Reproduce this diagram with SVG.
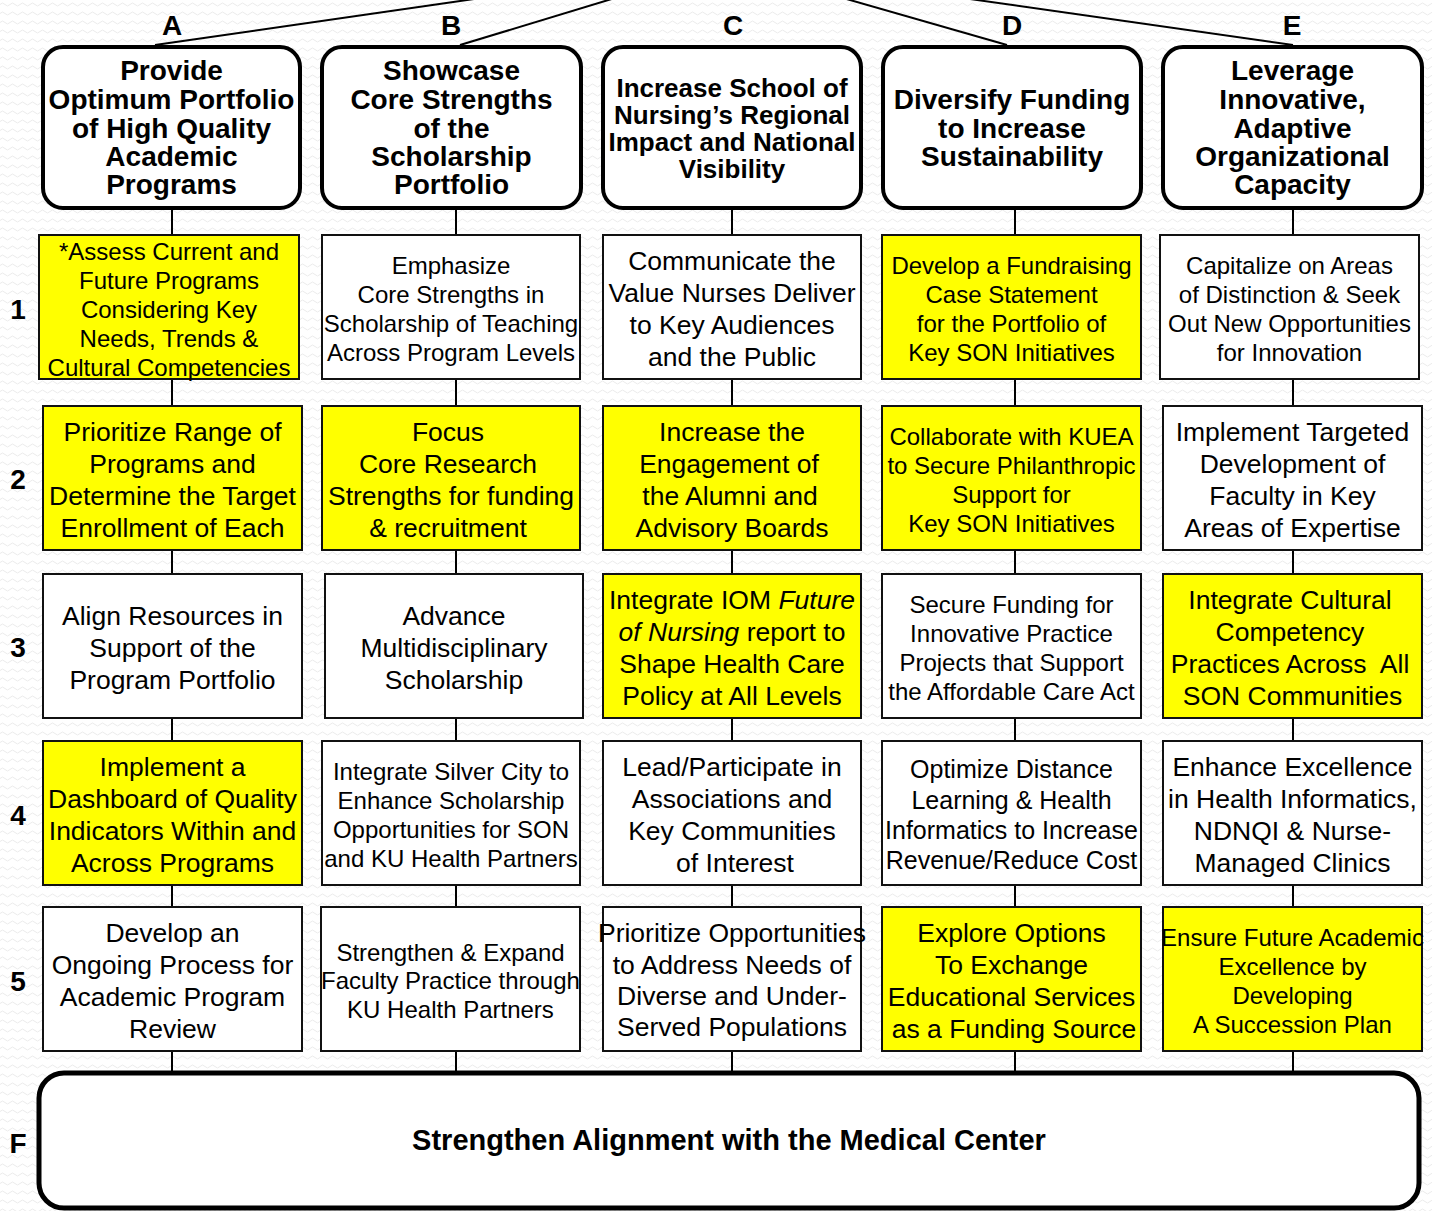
<svg xmlns="http://www.w3.org/2000/svg" width="1432" height="1211" viewBox="0 0 1432 1211">
<defs>
<pattern id="bg" width="10" height="9" patternUnits="userSpaceOnUse">
<path d="M0 4.5 Q2.5 1.5 5 4.5 T10 4.5" fill="none" stroke="#ebebeb" stroke-width="1"/>
</pattern>
<style>
.hdr{fill:#fff;stroke:#000;stroke-width:4}
.fbox{fill:#fff;stroke:#000;stroke-width:5}
.box{fill:#fff;stroke:#111;stroke-width:2}
.y{fill:#ffff00}
.ht{font-family:"Liberation Sans",Arial,sans-serif;font-weight:bold;font-size:28px;text-anchor:middle;fill:#000}
.hc{font-size:26px}
.ft{font-size:29px}
.lb{font-family:"Liberation Sans",Arial,sans-serif;font-weight:bold;font-size:28px;text-anchor:middle;fill:#000}
.t24{font-family:"Liberation Sans",Arial,sans-serif;font-size:24px;text-anchor:middle;fill:#000}
.t26{font-family:"Liberation Sans",Arial,sans-serif;font-size:26.5px;text-anchor:middle;fill:#000}
.t25{font-family:"Liberation Sans",Arial,sans-serif;font-size:25px;text-anchor:middle;fill:#000}
.con{stroke:#000;stroke-width:2;fill:none}
</style>
</defs>
<rect x="0" y="0" width="1432" height="1211" fill="#fff"/>
<rect x="0" y="0" width="1432" height="1211" fill="url(#bg)"/>

<g id="connectors">
<path class="con" d="M155 45 L481 -2"/>
<path class="con" d="M460 45 L615 -2"/>
<path class="con" d="M1007 45 L843 -2"/>
<path class="con" d="M1293 45 L963 -2"/>
<path class="con" d="M172 208 V1073"/>
<path class="con" d="M456 208 V1073"/>
<path class="con" d="M732 208 V1073"/>
<path class="con" d="M1015 208 V1073"/>
<path class="con" d="M1293 208 V1073"/>
</g>

<g id="labels">
<text class="lb" x="172" y="35">A</text>
<text class="lb" x="451" y="35">B</text>
<text class="lb" x="733" y="35">C</text>
<text class="lb" x="1012" y="35">D</text>
<text class="lb" x="1292" y="35">E</text>
<text class="lb" x="18" y="319">1</text>
<text class="lb" x="18" y="489">2</text>
<text class="lb" x="18" y="657">3</text>
<text class="lb" x="18" y="825">4</text>
<text class="lb" x="18" y="991">5</text>
<text class="lb" x="18" y="1153">F</text>
</g>

<g id="hA">
<rect class="hdr" x="43" y="47" width="257" height="161" rx="20"/>
<text class="ht"><tspan x="171.5" y="80">Provide</tspan><tspan x="171.5" y="109">Optimum Portfolio</tspan><tspan x="171.5" y="138">of High Quality</tspan><tspan x="171.5" y="166">Academic</tspan><tspan x="171.5" y="194">Programs</tspan></text>
</g>
<g id="hB">
<rect class="hdr" x="322" y="47" width="259" height="161" rx="20"/>
<text class="ht"><tspan x="451.5" y="80">Showcase</tspan><tspan x="451.5" y="109">Core Strengths</tspan><tspan x="451.5" y="138">of the</tspan><tspan x="451.5" y="166">Scholarship</tspan><tspan x="451.5" y="194">Portfolio</tspan></text>
</g>
<g id="hC">
<rect class="hdr" x="603" y="47" width="258" height="161" rx="20"/>
<text class="ht hc"><tspan x="732" y="96.5">Increase School of</tspan><tspan x="732" y="123.5">Nursing’s Regional</tspan><tspan x="732" y="150.5">Impact and National</tspan><tspan x="732" y="177.5">Visibility</tspan></text>
</g>
<g id="hD">
<rect class="hdr" x="883" y="47" width="258" height="161" rx="20"/>
<text class="ht"><tspan x="1012" y="109">Diversify Funding</tspan><tspan x="1012" y="138">to Increase</tspan><tspan x="1012" y="166">Sustainability</tspan></text>
</g>
<g id="hE">
<rect class="hdr" x="1163" y="47" width="259" height="161" rx="20"/>
<text class="ht"><tspan x="1292.5" y="80">Leverage</tspan><tspan x="1292.5" y="109">Innovative,</tspan><tspan x="1292.5" y="138">Adaptive</tspan><tspan x="1292.5" y="166">Organizational</tspan><tspan x="1292.5" y="194">Capacity</tspan></text>
</g>

<g id="A1">
<rect class="box y" x="39" y="235" width="260" height="144"/>
<text class="t24"><tspan x="169" y="260">*Assess Current and</tspan><tspan x="169" y="289">Future Programs</tspan><tspan x="169" y="318">Considering Key</tspan><tspan x="169" y="347">Needs, Trends &amp;</tspan><tspan x="169" y="376">Cultural Competencies</tspan></text>
</g>
<g id="B1">
<rect class="box" x="322" y="235" width="258" height="144"/>
<text class="t24"><tspan x="451" y="273.5">Emphasize</tspan><tspan x="451" y="302.5">Core Strengths in</tspan><tspan x="451" y="331.5">Scholarship of Teaching</tspan><tspan x="451" y="360.5">Across Program Levels</tspan></text>
</g>
<g id="C1">
<rect class="box" x="603" y="235" width="258" height="144"/>
<text class="t26"><tspan x="732" y="269.5">Communicate the</tspan><tspan x="732" y="301.5">Value Nurses Deliver</tspan><tspan x="732" y="333.5">to Key Audiences</tspan><tspan x="732" y="365.5">and the Public</tspan></text>
</g>
<g id="D1">
<rect class="box y" x="882" y="235" width="259" height="144"/>
<text class="t24"><tspan x="1011.5" y="273.5">Develop a Fundraising</tspan><tspan x="1011.5" y="302.5">Case Statement</tspan><tspan x="1011.5" y="331.5">for the Portfolio of</tspan><tspan x="1011.5" y="360.5">Key SON Initiatives</tspan></text>
</g>
<g id="E1">
<rect class="box" x="1160" y="235" width="259" height="144"/>
<text class="t24"><tspan x="1289.5" y="273.5">Capitalize on Areas</tspan><tspan x="1289.5" y="302.5">of Distinction &amp; Seek</tspan><tspan x="1289.5" y="331.5">Out New Opportunities</tspan><tspan x="1289.5" y="360.5">for Innovation</tspan></text>
</g>

<g id="A2">
<rect class="box y" x="43" y="406" width="259" height="144"/>
<text class="t26"><tspan x="172.5" y="440.5">Prioritize Range of</tspan><tspan x="172.5" y="472.5">Programs and</tspan><tspan x="172.5" y="504.5">Determine the Target</tspan><tspan x="172.5" y="536.5">Enrollment of Each</tspan></text>
</g>
<g id="B2">
<rect class="box y" x="322" y="406" width="258" height="144"/>
<text class="t26"><tspan x="448" y="440.5">Focus</tspan><tspan x="448" y="472.5">Core Research</tspan><tspan x="451" y="504.5">Strengths for funding</tspan><tspan x="448" y="536.5">&amp; recruitment</tspan></text>
</g>
<g id="C2">
<rect class="box y" x="603" y="406" width="258" height="144"/>
<text class="t26"><tspan x="732" y="440.5">Increase the</tspan><tspan x="729" y="472.5">Engagement of</tspan><tspan x="730" y="504.5">the Alumni and</tspan><tspan x="732" y="536.5">Advisory Boards</tspan></text>
</g>
<g id="D2">
<rect class="box y" x="882" y="406" width="259" height="144"/>
<text class="t24"><tspan x="1011.5" y="444.5">Collaborate with KUEA</tspan><tspan x="1011.5" y="473.5">to Secure Philanthropic</tspan><tspan x="1011.5" y="502.5">Support for</tspan><tspan x="1011.5" y="531.5">Key SON Initiatives</tspan></text>
</g>
<g id="E2">
<rect class="box" x="1163" y="406" width="259" height="144"/>
<text class="t26"><tspan x="1292.5" y="440.5">Implement Targeted</tspan><tspan x="1292.5" y="472.5">Development of</tspan><tspan x="1292.5" y="504.5">Faculty in Key</tspan><tspan x="1292.5" y="536.5">Areas of Expertise</tspan></text>
</g>

<g id="A3">
<rect class="box" x="43" y="574" width="259" height="144"/>
<text class="t26"><tspan x="172.5" y="624.5">Align Resources in</tspan><tspan x="172.5" y="656.5">Support of the</tspan><tspan x="172.5" y="688.5">Program Portfolio</tspan></text>
</g>
<g id="B3">
<rect class="box" x="325" y="574" width="258" height="144"/>
<text class="t26"><tspan x="454" y="624.5">Advance</tspan><tspan x="454" y="656.5">Multidisciplinary</tspan><tspan x="454" y="688.5">Scholarship</tspan></text>
</g>
<g id="C3">
<rect class="box y" x="603" y="574" width="258" height="144"/>
<text class="t26"><tspan x="732" y="608.5">Integrate IOM <tspan font-style="italic">Future</tspan></tspan><tspan x="732" y="640.5"><tspan font-style="italic">of Nursing</tspan> report to</tspan><tspan x="732" y="672.5">Shape Health Care</tspan><tspan x="732" y="704.5">Policy at All Levels</tspan></text>
</g>
<g id="D3">
<rect class="box" x="882" y="574" width="259" height="144"/>
<text class="t24"><tspan x="1011.5" y="612.5">Secure Funding for</tspan><tspan x="1011.5" y="641.5">Innovative Practice</tspan><tspan x="1011.5" y="670.5">Projects that Support</tspan><tspan x="1011.5" y="699.5">the Affordable Care Act</tspan></text>
</g>
<g id="E3">
<rect class="box y" x="1163" y="574" width="259" height="144"/>
<text class="t26"><tspan x="1290" y="608.5">Integrate Cultural</tspan><tspan x="1290" y="640.5">Competency</tspan><tspan x="1290" y="672.5" xml:space="preserve">Practices Across  All</tspan><tspan x="1292.5" y="704.5">SON Communities</tspan></text>
</g>

<g id="A4">
<rect class="box y" x="43" y="741" width="259" height="144"/>
<text class="t26"><tspan x="172.5" y="775.5">Implement a</tspan><tspan x="172.5" y="807.5">Dashboard of Quality</tspan><tspan x="172.5" y="839.5">Indicators Within and</tspan><tspan x="172.5" y="871.5">Across Programs</tspan></text>
</g>
<g id="B4">
<rect class="box" x="322" y="741" width="258" height="144"/>
<text class="t24"><tspan x="451" y="779.5">Integrate Silver City to</tspan><tspan x="451" y="808.5">Enhance Scholarship</tspan><tspan x="451" y="837.5">Opportunities for SON</tspan><tspan x="451" y="866.5">and KU Health Partners</tspan></text>
</g>
<g id="C4">
<rect class="box" x="603" y="741" width="258" height="144"/>
<text class="t26"><tspan x="732" y="775.5">Lead/Participate in</tspan><tspan x="732" y="807.5">Associations and</tspan><tspan x="732" y="839.5">Key Communities</tspan><tspan x="735" y="871.5">of Interest</tspan></text>
</g>
<g id="D4">
<rect class="box" x="882" y="741" width="259" height="144"/>
<text class="t25"><tspan x="1011.5" y="778">Optimize Distance</tspan><tspan x="1011.5" y="808.5">Learning &amp; Health</tspan><tspan x="1011.5" y="839">Informatics to Increase</tspan><tspan x="1011.5" y="869">Revenue/Reduce Cost</tspan></text>
</g>
<g id="E4">
<rect class="box" x="1163" y="741" width="259" height="144"/>
<text class="t26"><tspan x="1292.5" y="775.5">Enhance Excellence</tspan><tspan x="1292.5" y="807.5">in Health Informatics,</tspan><tspan x="1292.5" y="839.5">NDNQI &amp; Nurse-</tspan><tspan x="1292.5" y="871.5">Managed Clinics</tspan></text>
</g>

<g id="A5">
<rect class="box" x="43" y="907" width="259" height="144"/>
<text class="t26"><tspan x="172.5" y="941.5">Develop an</tspan><tspan x="172.5" y="973.5">Ongoing Process for</tspan><tspan x="172.5" y="1005.5">Academic Program</tspan><tspan x="172.5" y="1037.5">Review</tspan></text>
</g>
<g id="B5">
<rect class="box" x="321" y="907" width="259" height="144"/>
<text class="t24"><tspan x="450.5" y="960.5">Strengthen &amp; Expand</tspan><tspan x="450.5" y="988.5">Faculty Practice through</tspan><tspan x="450.5" y="1017.5">KU Health Partners</tspan></text>
</g>
<g id="C5">
<rect class="box" x="603" y="907" width="258" height="144"/>
<text class="t26"><tspan x="732" y="942">Prioritize Opportunities</tspan><tspan x="732" y="974">to Address Needs of</tspan><tspan x="732" y="1005">Diverse and Under-</tspan><tspan x="732" y="1036">Served Populations</tspan></text>
</g>
<g id="D5">
<rect class="box y" x="882" y="907" width="259" height="144"/>
<text class="t26"><tspan x="1011.5" y="941.5">Explore Options</tspan><tspan x="1011.5" y="973.5">To Exchange</tspan><tspan x="1011.5" y="1005.5">Educational Services</tspan><tspan x="1014" y="1037.5">as a Funding Source</tspan></text>
</g>
<g id="E5">
<rect class="box y" x="1163" y="907" width="259" height="144"/>
<text class="t24"><tspan x="1292.5" y="945.5">Ensure Future Academic</tspan><tspan x="1292.5" y="974.5">Excellence by</tspan><tspan x="1292.5" y="1003.5">Developing</tspan><tspan x="1292.5" y="1032.5">A Succession Plan</tspan></text>
</g>

<g id="F">
<rect class="fbox" x="39" y="1073" width="1380" height="135" rx="25"/>
<text class="ht ft" x="729" y="1150">Strengthen Alignment with the Medical Center</text>
</g>
</svg>
